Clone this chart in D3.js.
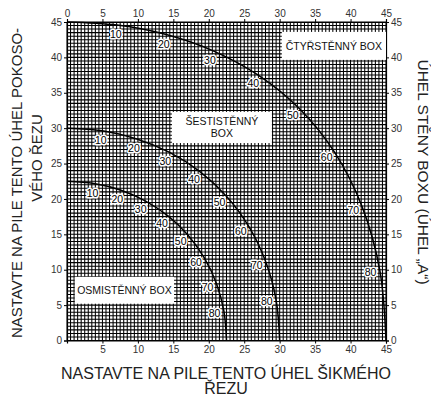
<!DOCTYPE html>
<html><head><meta charset="utf-8">
<script src="https://cdn.jsdelivr.net/npm/d3@7"></script>
<style>
html,body{margin:0;padding:0;background:#fff;}
svg{display:block;font-family:"Liberation Sans",Arial,sans-serif;}
</style></head>
<body>
<svg id="c" width="431" height="396"></svg>
<script>
// ---- data ----
const wallAngles = [0, 10, 20, 30, 40, 50, 60, 70, 80, 90];
const box4Bevel = [0, 7.05, 14.00, 20.70, 27.03, 32.80, 37.76, 41.64, 44.14, 45];
const box4Miter = [45, 44.56, 43.22, 40.89, 37.45, 32.73, 26.57, 18.88, 9.85, 0];
const box6Bevel = [0, 4.98, 9.85, 14.48, 18.75, 22.52, 25.66, 28.02, 29.50, 30];
const box6Miter = [30, 29.62, 28.48, 26.57, 23.86, 20.36, 16.10, 11.17, 5.72, 0];
const box8Bevel = [0, 3.81, 7.52, 11.03, 14.24, 17.05, 19.35, 21.08, 22.14, 22.5];
const box8Miter = [22.5, 22.19, 21.27, 19.73, 17.60, 14.91, 11.70, 8.06, 4.11, 0];
const axisTicks = [0, 5, 10, 15, 20, 25, 30, 35, 40, 45];
const bottomTicks = [5, 10, 15, 20, 25, 30, 35, 40, 45];
const boxNames = ["ČTYŘSTĚNNÝ BOX", "ŠESTISTĚNNÝ|BOX", "OSMISTĚNNÝ BOX"];
const xTitle = ["NASTAVTE NA PILE TENTO ÚHEL ŠIKMÉHO", "ŘEZU"];
const yTitle = ["NASTAVTE NA PILE TENTO ÚHEL POKOSO-", "VÉHO ŘEZU"];
const y2Title = "ÚHEL STĚNY BOXU (ÚHEL „A“)";

// ---- drawing ----
const svg = d3.select("#c");
const x = d3.scaleLinear().domain([0, 45]).range([67, 386]);
const y = d3.scaleLinear().domain([0, 45]).range([340.5, 22]);

// grid
const gridVals = d3.range(0, 45.001, 0.5);
const grid = svg.append("g").attr("stroke", "#000").attr("stroke-width", 1.05);
grid.selectAll("line.v").data(gridVals).join("line").attr("class", "v")
  .attr("x1", d => x(d)).attr("x2", d => x(d)).attr("y1", y(0)).attr("y2", y(45));
grid.selectAll("line.h").data(gridVals).join("line").attr("class", "h")
  .attr("y1", d => y(d)).attr("y2", d => y(d)).attr("x1", x(0)).attr("x2", x(45));

// axes
const tickStyle = g => {
  g.select(".domain").attr("stroke", "#000").attr("stroke-width", 1.2);
  g.selectAll(".tick line").attr("stroke", "#000");
  g.selectAll(".tick text").attr("fill", "#333").attr("font-size", 10)
    .attr("font-family", "Liberation Sans, Arial, sans-serif");
};
svg.append("g").attr("transform", `translate(0,${y(0)})`)
  .call(d3.axisBottom(x).tickValues(bottomTicks).tickSize(3).tickPadding(2)).call(tickStyle);
svg.append("g").attr("transform", `translate(0,${y(45)})`)
  .call(d3.axisTop(x).tickValues(axisTicks).tickSize(3).tickPadding(2)).call(tickStyle);
svg.append("g").attr("transform", `translate(${x(0)},0)`)
  .call(d3.axisLeft(y).tickValues(axisTicks).tickSize(3).tickPadding(2)).call(tickStyle);
svg.append("g").attr("transform", `translate(${x(45)},0)`)
  .call(d3.axisRight(y).tickValues(axisTicks).tickSize(3).tickPadding(2)).call(tickStyle);

// label boxes
const boxes = [
  {name: boxNames[0], x0: 30.3, x1: 45, y0: 43.6, y1: 39.65},
  {name: boxNames[1], x0: 14.8, x1: 28.9, y0: 32.3, y1: 27.9},
  {name: boxNames[2], x0: 1.1, x1: 15.1, y0: 9.0, y1: 5.2}
];
boxes.forEach(b => {
  svg.append("rect").attr("x", x(b.x0)).attr("y", y(b.y0))
    .attr("width", x(b.x1) - x(b.x0)).attr("height", y(b.y1) - y(b.y0))
    .attr("fill", "#fff");
  const lines = b.name.split("|");
  const cx = (x(b.x0) + x(b.x1)) / 2, cy = (y(b.y0) + y(b.y1)) / 2;
  lines.forEach((t, i) => {
    svg.append("text").attr("x", cx)
      .attr("y", cy + (i - (lines.length - 1) / 2) * 12.5)
      .attr("dy", "0.36em").attr("text-anchor", "middle")
      .attr("font-size", 10.5).attr("fill", "#111").text(t);
  });
});

// curves
const line = d3.line().x(d => x(d[0])).y(d => y(d[1])).curve(d3.curveCatmullRom.alpha(0.5));
const series = [[box4Bevel, box4Miter], [box6Bevel, box6Miter], [box8Bevel, box8Miter]];
series.forEach(([bv, mt]) => {
  const pts = bv.map((b, i) => [b, mt[i]]);
  svg.append("path").datum(pts).attr("d", line)
    .attr("fill", "none").attr("stroke", "#000").attr("stroke-width", 1.5);
  for (let i = 1; i < wallAngles.length - 1; i++) {
    const px = x(pts[i][0]), py = y(pts[i][1]);
    const tx = x(pts[i + 1][0]) - x(pts[i - 1][0]);
    const ty = y(pts[i + 1][1]) - y(pts[i - 1][1]);
    const len = Math.hypot(tx, ty);
    const nx = -ty / len, ny = tx / len;
    svg.append("text").attr("x", px + nx * 9.5).attr("y", py + ny * 9.5)
      .attr("dy", "0.36em").attr("text-anchor", "middle")
      .attr("font-size", 10.5).attr("fill", "#000")
      .attr("stroke", "#fff").attr("stroke-width", 3).attr("paint-order", "stroke")
      .attr("stroke-linejoin", "round")
      .text(wallAngles[i]);
  }
});

// axis titles
svg.append("text").attr("x", 226).attr("y", 378.5).attr("text-anchor", "middle")
  .attr("font-size", 16).attr("fill", "#222").text(xTitle[0]);
svg.append("text").attr("x", 226).attr("y", 394).attr("text-anchor", "middle")
  .attr("font-size", 16).attr("fill", "#222").text(xTitle[1]);
svg.append("text").attr("transform", "translate(22,183) rotate(-90)").attr("text-anchor", "middle")
  .attr("font-size", 15).attr("fill", "#222").text(yTitle[0]);
svg.append("text").attr("transform", "translate(42,158) rotate(-90)").attr("text-anchor", "middle")
  .attr("font-size", 15).attr("fill", "#222").text(yTitle[1]);
svg.append("text").attr("transform", "translate(418,172) rotate(90)").attr("text-anchor", "middle")
  .attr("font-size", 15.5).attr("fill", "#222").text(y2Title);
</script>
</body></html>
